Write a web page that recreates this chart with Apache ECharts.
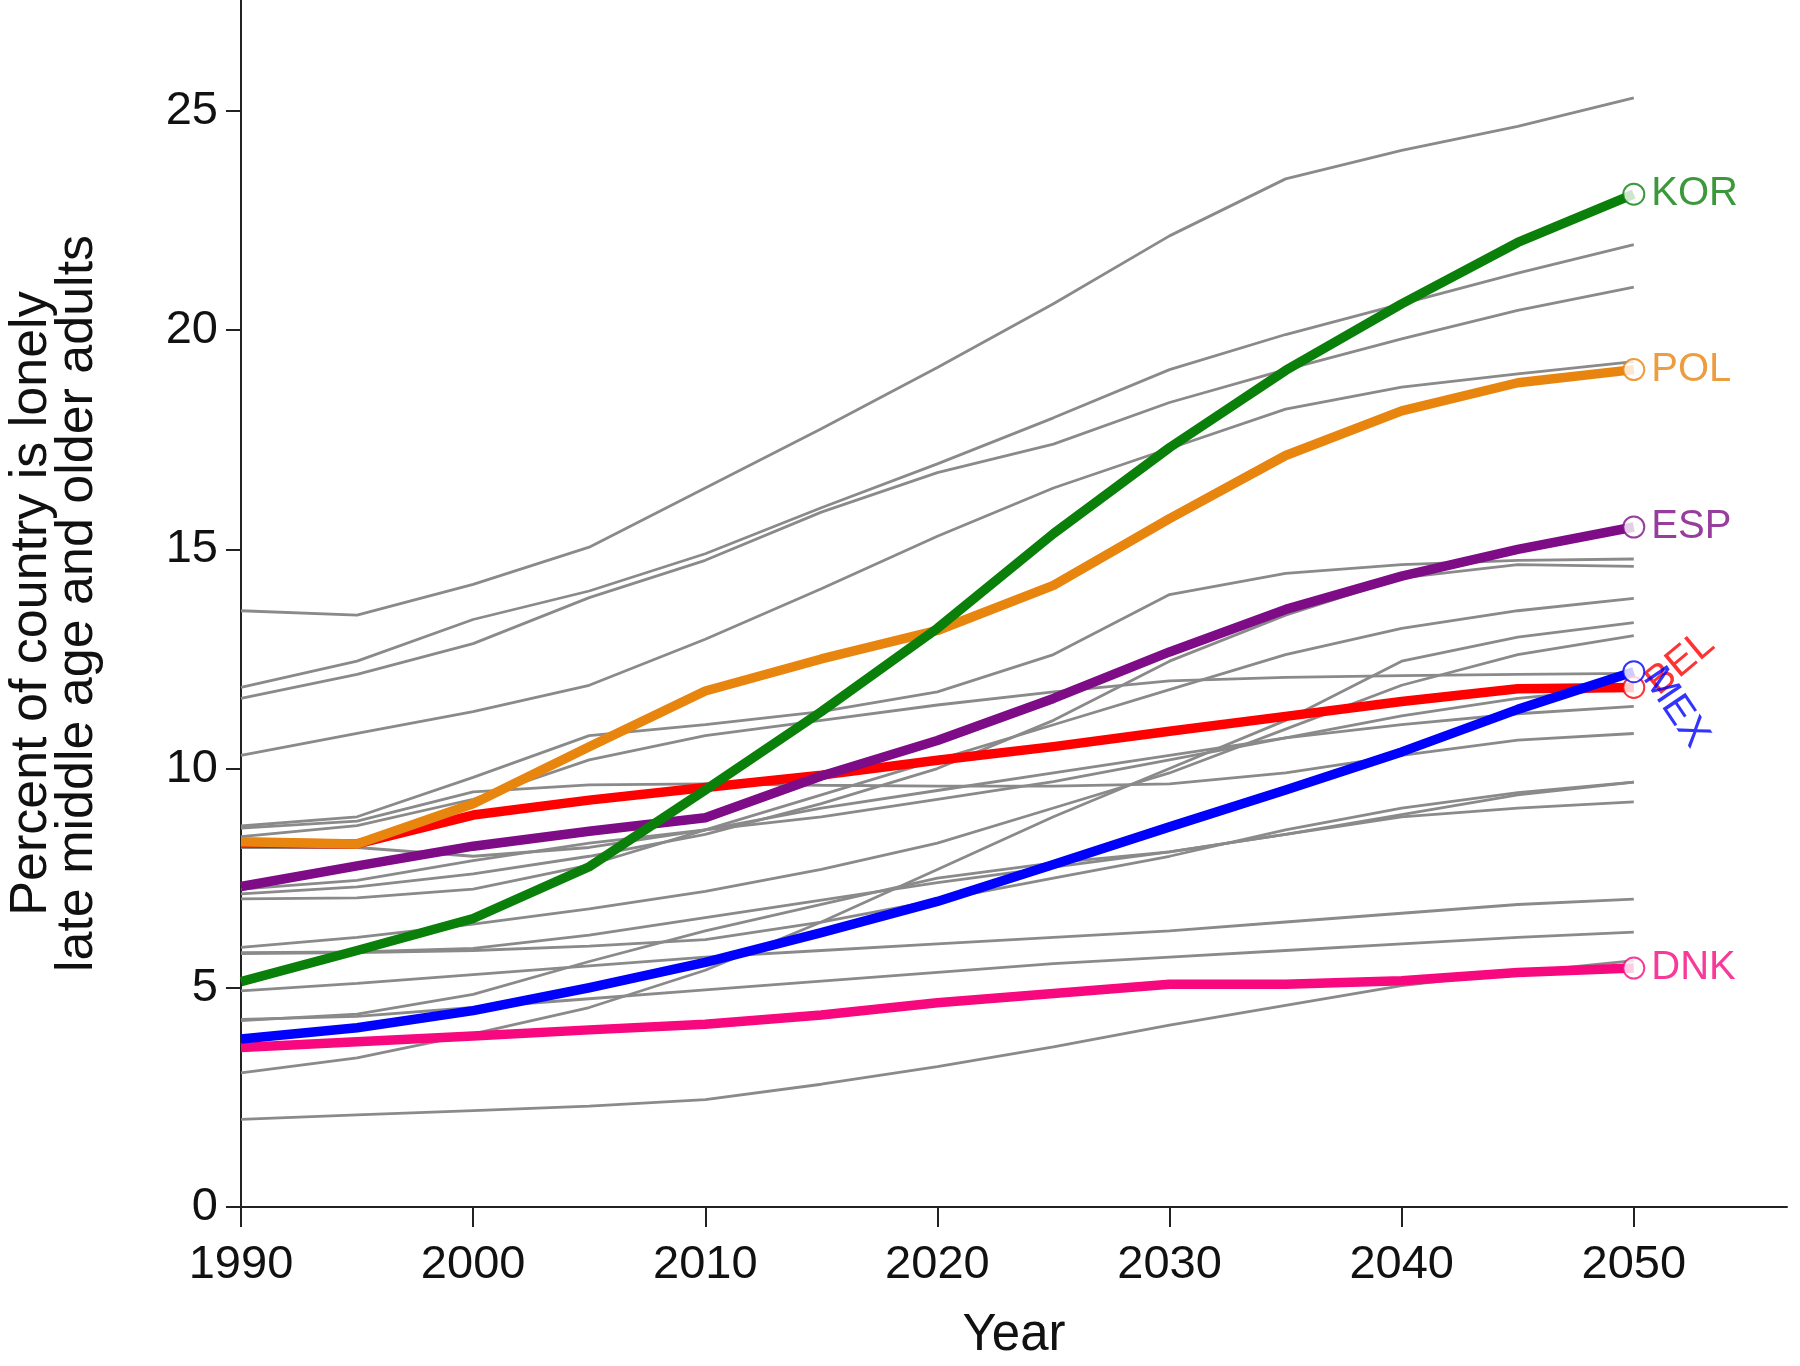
<!DOCTYPE html>
<html>
<head>
<meta charset="utf-8">
<script src="https://cdn.jsdelivr.net/npm/echarts@6/dist/echarts.min.js"></script>
<style>
  html, body { margin: 0; padding: 0; background: #ffffff; }
  #chart { width: 1800px; height: 1366px; }
</style>
</head>
<body>
<div id="chart"></div>
<script>
// ---- Data ----
const years = [1990, 1995, 2000, 2005, 2010, 2015, 2020, 2025, 2030, 2035, 2040, 2045, 2050];
const xTickValues = [1990, 2000, 2010, 2020, 2030, 2040, 2050];
const yTickValues = [0, 5, 10, 15, 20, 25];

// Highlighted countries
const KOR = [5.14, 5.85, 6.58, 7.76, 9.51, 11.3, 13.2, 15.36, 17.32, 19.08, 20.6, 22.0, 23.1];
const POL = [8.33, 8.28, 9.2, 10.5, 11.77, 12.5, 13.15, 14.18, 15.7, 17.14, 18.16, 18.8, 19.1];
const ESP = [7.31, 7.78, 8.23, 8.57, 8.88, 9.83, 10.64, 11.6, 12.66, 13.63, 14.39, 15.0, 15.51];
const BEL = [8.3, 8.28, 8.94, 9.28, 9.57, 9.85, 10.19, 10.5, 10.85, 11.19, 11.53, 11.82, 11.85];
const MEX = [3.83, 4.09, 4.48, 5.0, 5.58, 6.26, 6.97, 7.81, 8.67, 9.51, 10.38, 11.35, 12.21];
const DNK = [3.64, 3.77, 3.9, 4.04, 4.17, 4.38, 4.66, 4.87, 5.08, 5.08, 5.16, 5.35, 5.45];

// Other countries (grey)
const grey01 = [13.6, 13.5, 14.2, 15.05, 16.4, 17.75, 19.15, 20.6, 22.15, 23.45, 24.1, 24.65, 25.3];
const grey02 = [11.85, 12.45, 13.4, 14.05, 14.9, 15.95, 16.95, 18.0, 19.1, 19.9, 20.6, 21.3, 21.95];
const grey03 = [11.6, 12.15, 12.85, 13.9, 14.75, 15.85, 16.75, 17.4, 18.35, 19.1, 19.8, 20.45, 20.98];
const grey04 = [10.3, 10.8, 11.3, 11.9, 12.95, 14.1, 15.3, 16.4, 17.3, 18.2, 18.7, 19.0, 19.28];
const grey05 = [8.69, 8.9, 9.8, 10.75, 11.0, 11.3, 11.75, 12.6, 13.97, 14.45, 14.65, 14.75, 14.78];
const grey06 = [8.64, 8.8, 9.47, 9.63, 9.65, 9.62, 9.6, 9.6, 9.65, 9.9, 10.3, 10.65, 10.8];
const grey07 = [8.45, 8.7, 9.3, 10.2, 10.75, 11.1, 11.45, 11.75, 12.0, 12.08, 12.12, 12.15, 12.17];
const grey08 = [8.2, 8.2, 8.0, 8.2, 8.6, 9.1, 9.5, 9.9, 10.3, 10.7, 11.0, 11.25, 11.42];
const grey09 = [7.14, 7.3, 7.6, 8.0, 8.5, 9.2, 10.0, 11.1, 12.45, 13.5, 14.35, 14.65, 14.61];
const grey10 = [7.03, 7.05, 7.25, 7.8, 8.6, 9.4, 10.2, 11.0, 11.8, 12.6, 13.2, 13.6, 13.88];
const grey11 = [5.92, 6.15, 6.45, 6.8, 7.2, 7.7, 8.3, 9.1, 9.9, 10.9, 11.9, 12.6, 13.03];
const grey12 = [5.8, 5.82, 5.9, 6.2, 6.6, 7.0, 7.4, 7.75, 8.1, 8.5, 8.95, 9.4, 9.69];
const grey13 = [5.78, 5.8, 5.85, 5.95, 6.1, 6.5, 7.0, 7.5, 8.0, 8.6, 9.1, 9.45, 9.69];
const grey14 = [4.93, 5.1, 5.3, 5.5, 5.7, 5.85, 6.0, 6.15, 6.3, 6.5, 6.7, 6.9, 7.02];
const grey15 = [4.28, 4.35, 4.55, 4.75, 4.95, 5.15, 5.35, 5.55, 5.7, 5.85, 6.0, 6.15, 6.27];
const grey16 = [4.25, 4.4, 4.85, 5.6, 6.3, 6.9, 7.5, 7.85, 8.1, 8.5, 8.9, 9.1, 9.24];
const grey17 = [3.06, 3.4, 3.95, 4.55, 5.4, 6.5, 7.7, 8.9, 10.0, 11.1, 12.45, 13.0, 13.33];
const grey18 = [2.0, 2.1, 2.2, 2.3, 2.45, 2.8, 3.2, 3.65, 4.15, 4.6, 5.05, 5.35, 5.62];
const grey19 = [7.25, 7.45, 7.9, 8.3, 8.6, 8.9, 9.3, 9.7, 10.2, 10.7, 11.2, 11.6, 11.86];

const greyLines = [grey01, grey02, grey03, grey04, grey05, grey06, grey07, grey08, grey09, grey10,
                   grey11, grey12, grey13, grey14, grey15, grey16, grey17, grey18, grey19];

// drawing order (last on top)
const highlighted = [
  { name: 'DNK', values: DNK, color: '#f7087f', rotate: 0 },
  { name: 'BEL', values: BEL, color: '#ff0000', rotate: 40 },
  { name: 'ESP', values: ESP, color: '#7d0c86', rotate: 0 },
  { name: 'POL', values: POL, color: '#e8850f', rotate: 0 },
  { name: 'MEX', values: MEX, color: '#0000ff', rotate: -56 },
  { name: 'KOR', values: KOR, color: '#0a800a', rotate: 0 }
];

const FONT = 'Liberation Sans, Arial, sans-serif';
const pairs = (vals) => years.map((y, i) => [y, vals[i]]);

const series = [];
greyLines.forEach((g, i) => {
  series.push({
    type: 'line', name: 'grey' + i, data: pairs(g),
    symbol: 'none', silent: true, z: 2,
    lineStyle: { color: '#8a8a8a', width: 2.8 }
  });
});
highlighted.forEach((h, i) => {
  series.push({
    type: 'line', name: h.name, data: pairs(h.values),
    symbol: 'none', silent: true, z: 3 + i,
    lineStyle: { color: h.color, width: 9.5, join: 'round' }
  });
});
highlighted.forEach((h, i) => {
  const last = h.values[h.values.length - 1];
  series.push({
    type: 'scatter', name: h.name + '-end', data: [[years[years.length - 1], last]],
    symbol: 'emptyCircle', symbolSize: 21, silent: true, z: 20 + i,
    itemStyle: { color: h.color, borderColor: h.color, borderWidth: 4 },
    label: {
      show: true, position: 'right', distance: 6, formatter: h.name,
      color: h.color, fontSize: 40, fontFamily: FONT, rotate: h.rotate,
      align: 'left', verticalAlign: 'middle'
    }
  });
});

const chart = echarts.init(document.getElementById('chart'), null, { renderer: 'canvas' });
chart.setOption({
  animation: false,
  backgroundColor: '#ffffff',
  grid: { left: 241, right: 13, top: 0, bottom: 159, containLabel: false, outerBoundsMode: 'none' },
  xAxis: {
    type: 'value', min: 1990, max: 2056.6, interval: 10,
    name: 'Year', nameLocation: 'middle', nameGap: 103,
    nameTextStyle: { fontSize: 51, fontFamily: FONT, color: '#111' },
    axisLine: { show: true, lineStyle: { color: '#222', width: 2 } },
    axisTick: { show: true, length: 20, lineStyle: { color: '#222', width: 2 }, customValues: xTickValues },
    axisLabel: { fontSize: 47, fontFamily: FONT, color: '#111', margin: 35, customValues: xTickValues,
                 formatter: (v) => String(Math.round(v)) },
    splitLine: { show: false }
  },
  yAxis: {
    type: 'value', min: 0, max: 27.53, interval: 5,
    name: 'Percent of country is lonely\nlate middle age and older adults',
    nameLocation: 'middle', nameGap: 140, nameRotate: 90,
    nameTextStyle: { fontSize: 52, lineHeight: 46, fontFamily: FONT, color: '#111', align: 'center' },
    axisLine: { show: true, lineStyle: { color: '#222', width: 2 } },
    axisTick: { show: true, length: 15, lineStyle: { color: '#222', width: 2 }, customValues: yTickValues },
    axisLabel: { fontSize: 47, fontFamily: FONT, color: '#111', margin: 23, customValues: yTickValues,
                 formatter: (v) => String(Math.round(v)) },
    splitLine: { show: false }
  },
  series: series
});
</script>
</body>
</html>
